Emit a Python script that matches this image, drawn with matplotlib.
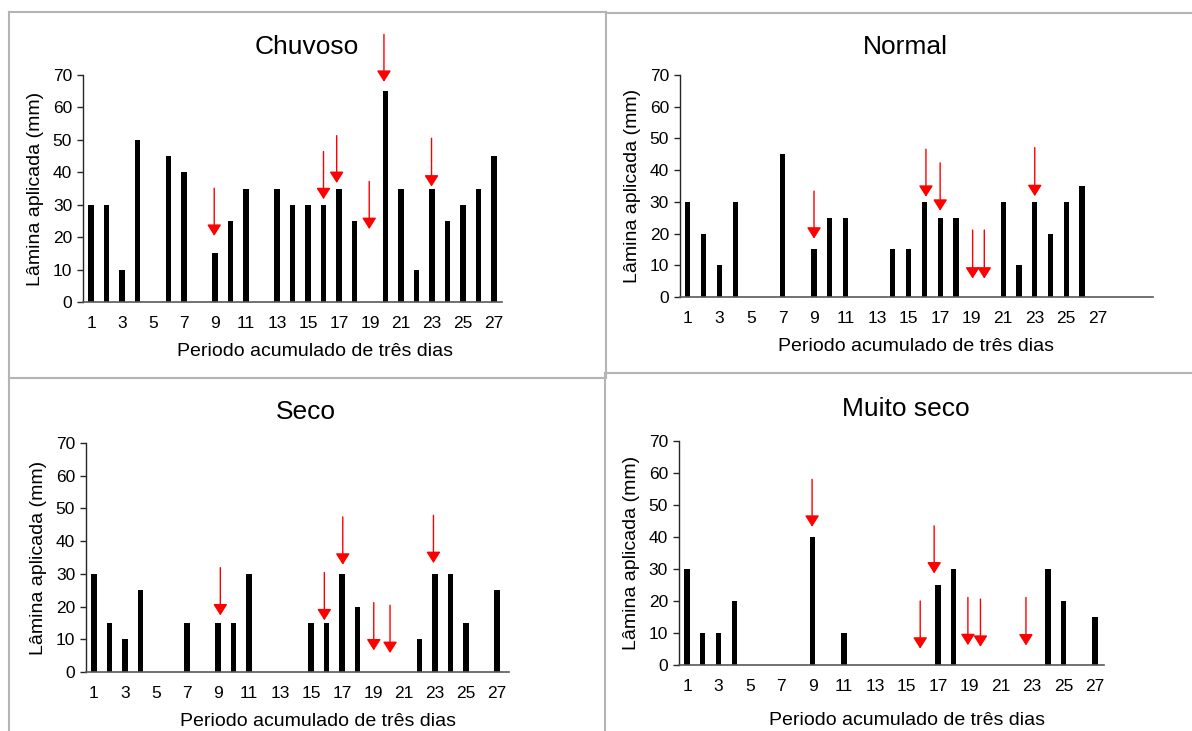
import matplotlib
matplotlib.use("Agg")
import matplotlib.pyplot as plt
from matplotlib.lines import Line2D
import numpy as np

plt.rcParams['font.family'] = ['Liberation Sans', 'DejaVu Sans']

periods = list(range(1, 28))
xtick_labels = [str(i) for i in range(1, 28, 2)]

titles = ["Chuvoso", "Normal", "Seco", "Muito seco"]
xlabel = "Periodo acumulado de três dias"
ylabel = "Lâmina aplicada (mm)"

chuvoso = [30, 30, 10, 50, 0, 45, 40, 0, 15, 25, 35, 0, 35, 30, 30, 30, 35, 25, 0, 65, 35, 10, 35, 25, 30, 35, 45]
normal = [30, 20, 10, 30, 0, 0, 45, 0, 15, 25, 25, 0, 0, 15, 15, 30, 25, 25, 0, 0, 30, 10, 30, 20, 30, 35, 0]
seco = [30, 15, 10, 25, 0, 0, 15, 0, 15, 15, 30, 0, 0, 0, 15, 15, 30, 20, 0, 0, 0, 10, 30, 30, 15, 0, 25]
muito_seco = [30, 10, 10, 20, 0, 0, 0, 0, 40, 0, 10, 0, 0, 0, 0, 0, 25, 30, 0, 0, 0, 0, 0, 30, 20, 0, 15]

# red arrow markers: x position, tail value, tip value
chuvoso_arrow_x = [8.95, 16.0, 16.85, 18.95, 19.9, 22.97]
chuvoso_arrow_tail = [35.1, 46.4, 51.3, 37.2, 82.5, 50.5]
chuvoso_arrow_tip = [20.4, 31.7, 36.7, 22.5, 67.9, 35.6]

normal_arrow_x = [9.0, 16.1, 17.0, 19.06, 19.8, 23.0]
normal_arrow_tail = [33.4, 46.6, 42.3, 21.1, 21.1, 47.1]
normal_arrow_tip = [18.4, 31.6, 27.2, 5.8, 5.8, 31.8]

seco_arrow_x = [9.15, 15.86, 17.05, 19.05, 20.1, 22.9]
seco_arrow_tail = [31.9, 30.4, 47.4, 21.2, 20.4, 47.9]
seco_arrow_tip = [17.3, 15.8, 32.8, 6.6, 5.8, 33.3]

muito_arrow_x = [8.97, 15.86, 16.75, 18.9, 19.7, 22.6]
muito_arrow_tail = [58.0, 20.0, 43.5, 21.1, 20.6, 21.1]
muito_arrow_tip = [43.2, 5.1, 28.6, 6.2, 5.7, 6.1]

W, H = 1192, 731
fig = plt.figure(figsize=(W / 100, H / 100), dpi=100)

def px_axes(x0, y0, x1, y1):
    return fig.add_axes([x0 / W, 1 - y1 / H, (x1 - x0) / W, (y1 - y0) / H])

panels = [
    dict(box=(83.25, 75, 501.75, 302), xlim=(0.5, 27.5), vals=chuvoso,
         ax_=chuvoso_arrow_x, at=chuvoso_arrow_tail, ap=chuvoso_arrow_tip,
         tpad=15, tx=0.535, lx=0.554, lpad=9),
    dict(box=(680, 75, 1153, 297), xlim=(0.5, 30.5), vals=normal,
         ax_=normal_arrow_x, at=normal_arrow_tail, ap=normal_arrow_tip,
         tpad=15, tx=0.476, lx=0.5, lpad=9),
    dict(box=(86.25, 443, 509.4, 672), xlim=(0.5, 27.8), vals=seco,
         ax_=seco_arrow_x, at=seco_arrow_tail, ap=seco_arrow_tip,
         tpad=17, tx=0.519, lx=0.548, lpad=9),
    dict(box=(679.2, 441, 1104.4, 665), xlim=(0.5, 27.6), vals=muito_seco,
         ax_=muito_arrow_x, at=muito_arrow_tail, ap=muito_arrow_tip,
         tpad=18, tx=0.533, lx=0.536, lpad=13),
]

spine_col = '#262626'
for p, title in zip(panels, titles):
    ax = px_axes(*p['box'])
    ax.bar(periods, p['vals'], width=0.33, color='black', zorder=2)
    ax.set_xlim(*p['xlim'])
    ax.set_ylim(0, 70)
    ax.set_yticks(range(0, 71, 10))
    ax.set_xticks(range(1, 28, 2))
    ax.set_xticklabels(xtick_labels)
    for s in ['top', 'right']:
        ax.spines[s].set_visible(False)
    ax.spines['left'].set_color(spine_col)
    ax.spines['bottom'].set_color('#595959')
    ax.spines['left'].set_linewidth(1.0)
    ax.spines['bottom'].set_linewidth(1.2)
    ax.tick_params(axis='y', length=4, width=1, color=spine_col, pad=4, labelsize=12.5, labelcolor='black')
    ax.tick_params(axis='x', length=0, pad=10, labelsize=12.5, labelcolor='black')
    ax.set_xlabel(xlabel, fontsize=14, labelpad=p['lpad'])
    ax.xaxis.label.set_x(p['lx'])
    ax.set_ylabel(ylabel, fontsize=14, labelpad=6)
    ax.set_title(title, fontsize=19, pad=p['tpad'], x=p['tx'])
    for x, t, h in zip(p['ax_'], p['at'], p['ap']):
        ax.annotate('', xy=(x, h), xytext=(x, t), xycoords='data', textcoords='data',
                    annotation_clip=False,
                    arrowprops=dict(arrowstyle='-|>,head_length=0.68,head_width=0.43',
                                    color='#ff0000', lw=1.0, mutation_scale=10,
                                    shrinkA=0, shrinkB=0))

# chart frames (grey borders)
border = '#b4b4b4'
segments = [
    ((8.5, 12), (606, 12)), ((8.5, 12), (8.5, 731)), ((606, 12), (606, 378)),
    ((8.5, 378), (606, 378)), ((606, 13), (1192, 13)), ((606, 373), (1192, 373)),
    ((605, 373), (605, 731)),
]
for (x0, y0), (x1, y1) in segments:
    fig.add_artist(Line2D([x0 / W, x1 / W], [1 - y0 / H, 1 - y1 / H],
                          transform=fig.transFigure, color=border, lw=1.5))

fig.savefig('out.png', dpi=100)
